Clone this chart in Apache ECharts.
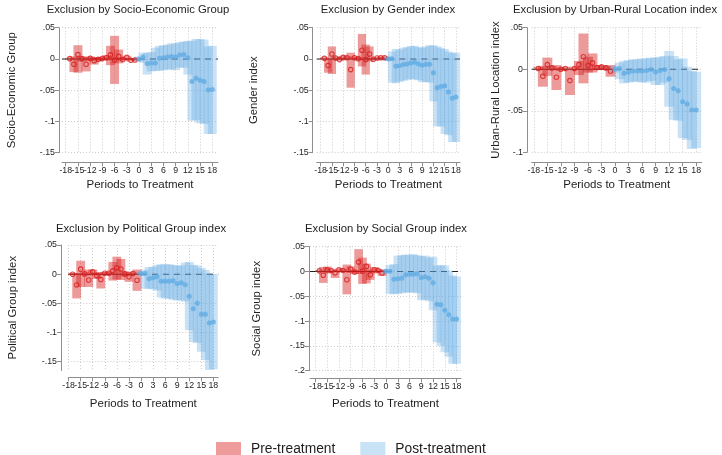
<!DOCTYPE html>
<html><head><meta charset="utf-8">
<script src="https://cdn.jsdelivr.net/npm/echarts@6/dist/echarts.min.js"></script>
<style>html,body{margin:0;padding:0;background:#fff}#c{width:722px;height:455px}</style>
</head><body><div id="c"></div>
<script>
// ---------------- DATA ----------------
const periods = [-17,-16,-15,-14,-13,-12,-11,-10,-9,-8,-7,-6,-5,-4,-3,-2,-1,0,1,2,3,4,5,6,7,8,9,10,11,12,13,14,15,16,17,18];
const nPre = 17; // periods -17..-1 are pre-treatment
const xTickValues = [-18,-15,-12,-9,-6,-3,0,3,6,9,12,15,18];
const yTicks15 = [-0.15,-0.1,-0.05,0,0.05];
const yTicks10 = [-0.1,-0.05,0,0.05];
const yTicks20 = [-0.2,-0.15,-0.1,-0.05,0,0.05];
const panelTitles = ['Exclusion by Socio-Economic Group','Exclusion by Gender index','Exclusion by Urban-Rural Location index','Exclusion by Political Group index','Exclusion by Social Group index'];
const yTitles = ['Socio-Economic Group','Gender index','Urban-Rural Location index','Political Group index','Social Group index'];
const xTitle = 'Periods to Treatment';
const legendNames = ['Pre-treatment','Post-treatment'];

const seEst = [0.0005,-0.0085,0.007,0.0005,-0.0085,0.001,-0.0027,-0.0005,0.0008,0.002,0.0065,-0.0016,0.0042,-0.0008,0.0025,-0.002,-0.0016,
  0,0.003,-0.0075,-0.0064,-0.0064,0.001,0.002,0.003,0.004,0.003,0.0064,0.007,0.002,-0.036,-0.031,-0.034,-0.036,-0.0497,-0.049];
const seLo = [-0.001,-0.021,-0.022,-0.004,-0.020,-0.003,-0.009,-0.004,-0.002,-0.002,-0.010,-0.040,-0.007,-0.003,-0.001,-0.004,-0.003,
  -0.004,-0.006,-0.025,-0.020,-0.019,-0.019,-0.018,-0.017,-0.017,-0.018,-0.014,-0.014,-0.025,-0.099,-0.098,-0.103,-0.104,-0.120,-0.120];
const seHi = [0.002,0.004,0.022,0.004,0.003,0.004,0.003,0.003,0.003,0.006,0.021,0.037,0.015,0.002,0.005,0.001,0.000,
  0.004,0.010,0.010,0.011,0.018,0.021,0.022,0.023,0.025,0.025,0.027,0.028,0.029,0.029,0.032,0.032,0.031,0.020,0.021];

const gEst = [0.001,-0.0105,0.008,0.0015,-0.001,0.0025,0.002,-0.017,0.002,0.0005,0.014,-0.001,0.008,-0.0005,0.0015,0.002,0.002,
  0,0.0005,-0.0117,-0.0107,-0.009,-0.008,-0.0064,-0.0053,-0.008,-0.010,-0.0085,-0.0085,-0.022,-0.046,-0.044,-0.043,-0.053,-0.063,-0.061];
const gLo = [-0.001,-0.022,-0.024,-0.001,-0.003,0.000,0.000,-0.046,0.000,-0.002,-0.012,-0.025,-0.004,-0.002,0.000,0.000,0.000,
  -0.003,-0.038,-0.039,-0.037,-0.035,-0.034,-0.032,-0.033,-0.034,-0.037,-0.037,-0.038,-0.068,-0.108,-0.108,-0.120,-0.122,-0.133,-0.133];
const gHi = [0.003,0.000,0.020,0.004,0.002,0.005,0.004,0.010,0.004,0.003,0.040,0.023,0.020,0.001,0.003,0.004,0.004,
  0.004,0.012,0.016,0.015,0.018,0.019,0.021,0.021,0.019,0.018,0.020,0.022,0.022,0.020,0.018,0.016,0.012,0.010,0.010];

const urEst = [0.0008,-0.0084,0.0056,0.0016,-0.0096,0.0000,0.0008,-0.0137,0.0008,0.0056,0.0150,0.0044,0.0076,0.0020,0.0028,0.0016,-0.0024,
  0.000,0.001,-0.0048,-0.0036,-0.002,-0.002,-0.002,-0.0016,-0.0004,-0.0032,-0.0016,-0.0004,-0.0116,-0.0233,-0.026,-0.039,-0.042,-0.049,-0.049];
const urLo = [-0.001,-0.021,-0.008,-0.001,-0.025,-0.002,-0.001,-0.031,-0.001,-0.007,-0.017,-0.004,-0.004,-0.001,0.000,-0.001,-0.009,
  -0.004,-0.012,-0.017,-0.016,-0.015,-0.015,-0.016,-0.016,-0.014,-0.019,-0.019,-0.016,-0.045,-0.061,-0.062,-0.083,-0.085,-0.096,-0.095];
const urHi = [0.003,0.004,0.014,0.004,0.005,0.002,0.003,0.000,0.003,0.010,0.043,0.015,0.019,0.005,0.005,0.004,0.005,
  0.004,0.008,0.010,0.011,0.012,0.012,0.013,0.013,0.014,0.014,0.015,0.016,0.022,0.016,0.012,0.013,0.003,-0.002,-0.003];

const polEst = [0.000,-0.0185,0.0086,0.0005,-0.010,0.004,-0.0025,-0.009,0.0015,0.0015,0.0057,0.011,0.009,0.0005,-0.0046,0.0011,-0.0103,
  0.001,0.001,-0.008,-0.0063,-0.0046,-0.0123,-0.0123,-0.0123,-0.0114,-0.0163,-0.0148,-0.018,-0.0377,-0.059,-0.050,-0.0685,-0.0685,-0.0835,-0.082];
const polLo = [-0.001,-0.0415,-0.022,-0.002,-0.022,-0.002,-0.008,-0.0245,-0.001,-0.001,-0.011,-0.009,-0.010,-0.004,-0.013,-0.001,-0.0285,
  -0.003,-0.025,-0.025,-0.026,-0.028,-0.040,-0.042,-0.042,-0.044,-0.045,-0.045,-0.047,-0.096,-0.116,-0.118,-0.133,-0.147,-0.164,-0.163];
const polHi = [0.002,0.002,0.023,0.003,0.008,0.008,0.003,0.0035,0.004,0.004,0.021,0.030,0.026,0.005,0.004,0.003,0.008,
  0.005,0.008,0.0125,0.0125,0.016,0.017,0.017,0.017,0.016,0.015,0.015,0.020,0.021,0.016,0.015,0.011,0.007,0.001,0.000];

const socEst = [0.0013,-0.0075,0.0033,0.002,-0.0027,0.0033,0.002,-0.0167,0.005,-0.0013,0.019,0.0007,0.0103,-0.0067,0.0033,0.002,-0.003,
  0.0007,0.0007,-0.0154,-0.0147,-0.0134,-0.0067,-0.0054,-0.0054,-0.0047,-0.0127,-0.0107,-0.0134,-0.0227,-0.066,-0.067,-0.078,-0.087,-0.096,-0.096];
const socLo = [-0.001,-0.023,-0.004,-0.002,-0.013,0.000,-0.001,-0.046,-0.003,-0.005,-0.005,-0.025,-0.024,-0.017,-0.004,-0.001,-0.009,
  -0.004,-0.045,-0.046,-0.045,-0.044,-0.042,-0.043,-0.042,-0.044,-0.058,-0.057,-0.060,-0.078,-0.143,-0.150,-0.163,-0.172,-0.186,-0.186];
const socHi = [0.003,0.009,0.010,0.005,0.002,0.006,0.005,0.014,0.010,0.003,0.045,0.028,0.016,0.004,0.009,0.005,0.004,
  0.005,0.013,0.015,0.032,0.033,0.034,0.034,0.035,0.033,0.031,0.032,0.028,0.030,0.012,0.013,0.012,0.002,-0.008,-0.010];

// ---------------- LAYOUT / STYLE ----------------
const FONT = '"Liberation Sans", Arial, Helvetica, sans-serif';
const TXT = '#1e1e1e';
const AXIS = '#8e8e8e';
const GRIDC = '#cdcdcd';
const PRE_FILL = 'rgba(215,30,30,0.45)';
const POST_FILL = 'rgba(90,165,225,0.32)';
const PRE_DOT = '#D61E1E';
const POST_DOT = '#62ACE4';
const HALF = 1.1; // half bar width in periods

const panels = [
  {est:seEst, lo:seLo, hi:seHi, yTicks:yTicks15, grid:{left:62, top:27.7, width:156, height:125}, xr:[-18.92,19.41], yr:[-0.15,0.05], yOff:3, xOff:9.6, yGap:42, xGap:17, tx:138, ty:4.5},
  {est:gEst, lo:gLo, hi:gHi, yTicks:yTicks15, grid:{left:316.7, top:27.7, width:143.3, height:125}, xr:[-19.04,19.07], yr:[-0.15,0.05], yOff:4, xOff:9.6, yGap:53, xGap:17, tx:388, ty:4.5},
  {est:urEst, lo:urLo, hi:urHi, yTicks:yTicks10, grid:{left:531.7, top:27.7, width:170, height:124.6}, xr:[-18.47,19.22], yr:[-0.1,0.05], yOff:4.7, xOff:10, yGap:26, xGap:17, tx:615, ty:4.5},
  {est:polEst, lo:polLo, hi:polHi, yTicks:yTicks15, grid:{left:68.3, top:245, width:150, height:125.5}, xr:[-18.08,19.23], yr:[-0.165,0.05], yOff:7.3, xOff:6.8, yGap:43, xGap:21, tx:141, ty:223},
  {est:socEst, lo:socLo, hi:socHi, yTicks:yTicks20, grid:{left:310, top:246.7, width:150.9, height:124}, xr:[-19.39,19.1], yr:[-0.2,0.05], yOff:1, xOff:7.6, yGap:47, xGap:20, tx:386, ty:223}
];

function fmtY(v){ if (Math.abs(v) < 1e-9) return '0'; return String(+v.toFixed(2)).replace('0.', '.'); }
function fmtX(v){ return xTickValues.indexOf(v) >= 0 ? String(v) : ''; }

function barRenderer(fill){
  return function(params, api){
    const x = api.value(0), lo = api.value(1), hi = api.value(2);
    const a = api.coord([x - HALF, hi]);
    const b = api.coord([x + HALF, lo]);
    return {type:'rect', shape:{x:a[0], y:a[1], width:b[0]-a[0], height:b[1]-a[1]}, style:{fill:fill}};
  };
}

const grids = [], xAxes = [], yAxes = [], series = [], titles = [];
panels.forEach((p, i) => {
  grids.push(Object.assign({containLabel:false}, p.grid));
  titles.push({text: panelTitles[i], left: p.tx, top: p.ty, textAlign:'center', padding:0,
    textStyle:{fontSize:11.3, fontWeight:'normal', color:TXT, fontFamily:FONT}});
  // blank end labels at the axis extent so that the real tick labels are never dropped by min/max overlap checks
  const xLabelValues = [p.xr[0]].concat(xTickValues, [p.xr[1]]);
  xAxes.push({type:'value', gridIndex:i, min:p.xr[0], max:p.xr[1], offset:p.xOff,
    axisLine:{show:true, onZero:false, lineStyle:{color:AXIS, width:1}},
    axisTick:{show:true, length:4, customValues:xTickValues, lineStyle:{color:AXIS}},
    axisLabel:{customValues:xLabelValues, formatter:fmtX, margin:4, fontSize:8.8, color:TXT, fontFamily:FONT, hideOverlap:false, showMinLabel:false, showMaxLabel:false},
    splitLine:{show:true, lineStyle:{type:[1,2], color:GRIDC, width:1}},
    name:xTitle, nameLocation:'middle', nameGap:p.xGap,
    nameTextStyle:{fontSize:11.5, color:TXT, fontFamily:FONT}});
  yAxes.push({type:'value', gridIndex:i, min:p.yr[0], max:p.yr[1], offset:p.yOff,
    axisLine:{show:true, onZero:false, lineStyle:{color:AXIS, width:1}},
    axisTick:{show:true, length:4, customValues:p.yTicks, lineStyle:{color:AXIS}},
    axisLabel:{customValues:p.yTicks, margin:4, fontSize:8.8, color:TXT, fontFamily:FONT, formatter:fmtY, showMinLabel:true, showMaxLabel:true},
    splitLine:{show:true, lineStyle:{type:[1,2], color:GRIDC, width:1}},
    name:yTitles[i], nameLocation:'middle', nameGap:p.yGap, nameRotate:90,
    nameTextStyle:{fontSize:11.3, color:TXT, fontFamily:FONT}});

  const preBars = [], postBars = [], preDots = [], postDots = [];
  periods.forEach((t, k) => {
    if (k < nPre) { preBars.push([t, p.lo[k], p.hi[k]]); preDots.push([t, p.est[k]]); }
    else { postBars.push([t, p.lo[k], p.hi[k]]); postDots.push([t, p.est[k]]); }
  });

  series.push({type:'line', name:'zeroPre'+i, xAxisIndex:i, yAxisIndex:i, silent:true, showSymbol:false, z:1,
    data:[[p.xr[0],0],[0,0]], lineStyle:{color:'#222', width:1.1, type:'solid'}});
  series.push({type:'line', name:'zeroPost'+i, xAxisIndex:i, yAxisIndex:i, silent:true, showSymbol:false, z:1,
    data:[[0,0],[p.xr[1],0]], lineStyle:{color:'#222', width:1.1, type:[6,5]}});
  series.push({type:'custom', name:legendNames[0], xAxisIndex:i, yAxisIndex:i, z:2, silent:true,
    renderItem:barRenderer(PRE_FILL), itemStyle:{color:PRE_FILL}, encode:{x:0, y:[1,2]}, data:preBars});
  series.push({type:'custom', name:legendNames[1], xAxisIndex:i, yAxisIndex:i, z:2, silent:true,
    renderItem:barRenderer(POST_FILL), itemStyle:{color:POST_FILL}, encode:{x:0, y:[1,2]}, data:postBars});
  series.push({type:'scatter', name:'preEst'+i, xAxisIndex:i, yAxisIndex:i, z:3, silent:true, symbol:'circle', symbolSize:4.5,
    itemStyle:{color:'rgba(0,0,0,0)', borderColor:PRE_DOT, borderWidth:1.1}, data:preDots});
  series.push({type:'scatter', name:'postEst'+i, xAxisIndex:i, yAxisIndex:i, z:3, silent:true, symbol:'circle', symbolSize:5,
    itemStyle:{color:POST_DOT}, data:postDots});
});

const chart = echarts.init(document.getElementById('c'), null, {renderer:'canvas'});
chart.setOption({
  animation:false,
  backgroundColor:'#ffffff',
  textStyle:{fontFamily:FONT},
  title:titles,
  grid:grids, xAxis:xAxes, yAxis:yAxes, series:series,
  legend:{data:[{name:legendNames[0], itemStyle:{color:'#EE9B9C'}},{name:legendNames[1], itemStyle:{color:'#C8E2F6'}}],
    left:216, top:442, itemWidth:25, itemHeight:15, itemGap:25, icon:'rect', selectedMode:false, padding:0,
    textStyle:{fontSize:13.8, color:TXT, fontFamily:FONT, padding:[0,0,0,5]}}
});
</script></body></html>
